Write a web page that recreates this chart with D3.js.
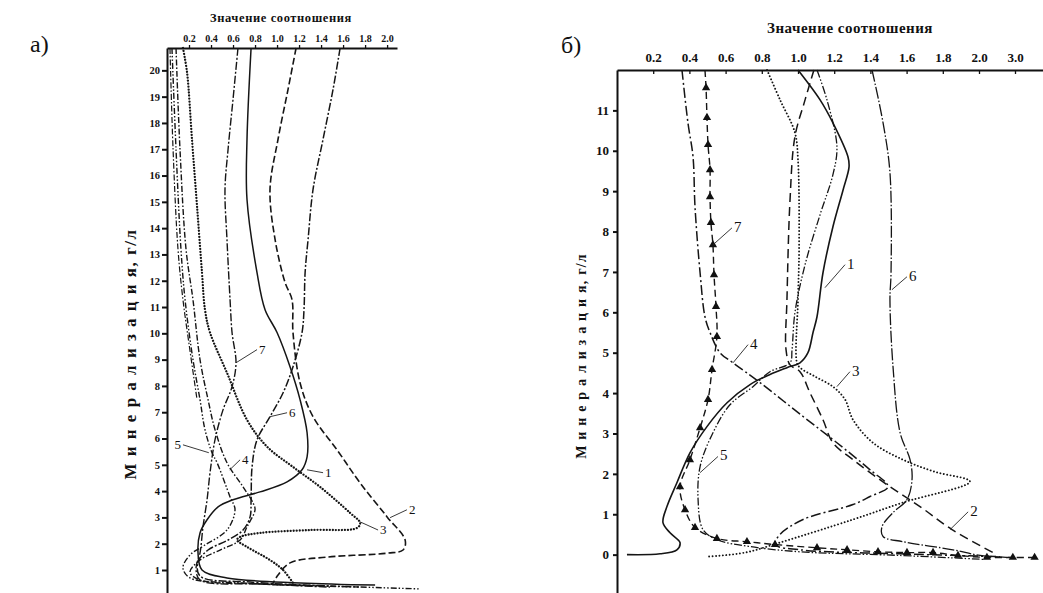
<!DOCTYPE html>
<html>
<head>
<meta charset="utf-8">
<script src="https://cdn.jsdelivr.net/npm/d3@7"></script>
<style>
  body { margin: 0; background: #fff; }
  svg { display: block; }
  text { font-family: "Liberation Serif", "DejaVu Serif", serif; fill: #111; }
  .axis path, .axis line { stroke: #111; }
</style>
</head>
<body>
<svg id="chart" width="1043" height="593"></svg>
<script>
// ---------- panel a: ratio vs mineralization (0..20 g/l) ----------
const xTicksA = [0.2, 0.4, 0.6, 0.8, 1.0, 1.2, 1.4, 1.6, 1.8, 2.0];
const yTicksA = d3.range(1, 21);

// each point is [ratio, mineralization]
const a1 = [[0.764,20.85],[0.727,17.38],[0.727,15.09],[0.818,12.31],[0.891,10.90],[1.0,10.03],[1.118,8.73],[1.209,7.48],[1.273,6.22],[1.273,5.30],[1.227,4.81],[1.091,4.35],[0.845,3.97],[0.6,3.67],[0.464,3.40],[0.364,2.91],[0.3,2.41],[0.282,1.65],[0.318,1.00],[0.545,0.70],[1.209,0.51],[1.891,0.43]];
const a2 = [[1.173,20.85],[1.1,19.28],[1.009,17.38],[0.936,15.47],[0.982,13.57],[1.073,11.93],[1.136,11.28],[1.145,10.03],[1.209,8.12],[1.327,6.83],[1.545,5.57],[1.755,4.31],[2.0,3.02],[2.164,2.14],[2.145,1.76],[2.0,1.64],[1.455,1.49],[1.118,1.27],[1.009,0.81],[0.955,0.43]];
const a3 = [[0.145,20.85],[0.182,19.93],[0.227,17.38],[0.273,14.83],[0.318,12.31],[0.345,10.90],[0.391,10.03],[0.545,8.50],[0.727,6.71],[0.909,5.69],[1.145,4.92],[1.391,4.16],[1.664,3.17],[1.755,2.79],[1.727,2.60],[1.3,2.52],[0.845,2.41],[0.664,2.26],[0.636,2.14],[0.727,1.88],[0.936,1.38],[1.055,1.00],[1.145,0.51]];
const a4 = [[0.082,20.85],[0.118,17.0],[0.173,13.19],[0.236,11.28],[0.3,9.0],[0.373,7.48],[0.436,6.34],[0.545,5.08],[0.691,4.16],[0.782,3.55],[0.8,3.29],[0.727,2.64],[0.664,2.14],[0.482,1.76],[0.3,1.38],[0.209,0.92],[0.3,0.62],[0.845,0.47],[1.755,0.35]];
const a5 = [[0.045,20.85],[0.082,17.0],[0.127,13.19],[0.164,11.28],[0.236,9.0],[0.3,7.48],[0.345,6.34],[0.409,5.46],[0.455,5.08],[0.573,3.78],[0.618,3.29],[0.545,2.52],[0.345,1.95],[0.209,1.57],[0.145,1.08],[0.209,0.70],[0.664,0.51],[1.482,0.39],[2.3,0.28]];
const a5b = [[0.027,20.85],[0.055,17.0],[0.1,13.19],[0.145,11.28],[0.2,9.6],[0.273,7.48]];
const a6 = [[1.573,20.85],[1.509,19.28],[1.418,17.38],[1.327,15.47],[1.282,13.57],[1.255,12.31],[1.245,10.90],[1.227,10.03],[1.145,8.73],[1.055,7.74],[0.936,6.83],[0.818,5.95],[0.773,4.92],[0.764,3.67],[0.755,3.02],[0.691,2.52],[0.555,2.14],[0.373,1.76],[0.282,1.31],[0.3,0.77],[0.755,0.54],[1.482,0.39]];
const a7 = [[0.645,20.85],[0.6,18.90],[0.555,17.0],[0.527,15.47],[0.545,13.57],[0.573,11.28],[0.591,10.03],[0.627,8.88],[0.591,7.97],[0.509,7.09],[0.436,5.95],[0.391,4.70],[0.364,3.67],[0.327,2.64],[0.3,1.65],[0.264,1.08],[0.3,0.62],[0.845,0.47],[1.482,0.35]];

// curve number labels: [point on curve], [end of leader]
const labelsA = [
  { id: "1", from: [1.273,4.81], to: [1.418,4.70] },
  { id: "2", from: [2.027,2.99], to: [2.18,3.29] },
  { id: "3", from: [1.755,2.83], to: [1.918,2.52] },
  { id: "4", from: [0.57,4.81],  to: [0.664,5.19] },
  { id: "5", from: [0.38,5.46],  to: [0.145,5.76], left: true },
  { id: "6", from: [0.936,6.83], to: [1.091,6.98] },
  { id: "7", from: [0.627,8.88], to: [0.818,9.38] }
];

// ---------- panel b: ratio vs mineralization (0..11 g/l) ----------
const xTicksB = [0.2, 0.4, 0.6, 0.8, 1.0, 1.2, 1.4, 1.6, 1.8, 2.0, 3.0];
const yTicksB = d3.range(0, 12);

const b1 = [[1.0,12.0],[1.122,11.26],[1.193,10.69],[1.276,9.85],[1.282,9.60],[1.249,9.03],[1.193,8.12],[1.138,6.98],[1.105,5.89],[1.083,5.50],[1.055,5.0],[1.011,4.75],[0.939,4.63],[0.845,4.46],[0.735,4.21],[0.608,3.76],[0.497,3.17],[0.403,2.52],[0.331,1.78],[0.276,1.19],[0.254,0.79],[0.293,0.54],[0.348,0.30],[0.331,0.12],[0.238,0.02],[0.055,0.0]];
const b2 = [[1.088,12.0],[1.039,11.26],[0.983,10.35],[0.956,8.79],[0.939,6.31],[0.934,5.07],[0.956,4.70],[1.011,4.53],[1.066,4.01],[1.138,3.34],[1.193,2.77],[1.304,2.35],[1.492,1.73],[1.674,1.19],[1.851,0.62],[2.39,0.05]];
const b3 = [[0.829,12.0],[0.901,11.26],[0.983,10.45],[1.0,9.78],[1.006,7.55],[1.0,6.31],[0.994,4.75],[1.011,4.63],[1.094,4.41],[1.193,4.16],[1.26,3.84],[1.304,3.34],[1.414,2.77],[1.58,2.35],[1.757,2.05],[1.95,1.81],[1.58,1.29],[1.304,0.87],[0.901,0.30],[0.707,0.05],[0.497,-0.05]];
const b4 = [[0.359,12.0],[0.392,10.69],[0.42,9.85],[0.431,8.61],[0.459,6.98],[0.486,5.89],[0.514,5.50],[0.569,5.0],[0.641,4.75],[0.79,4.26],[1.028,3.42],[1.215,2.77],[1.398,2.10],[1.497,1.68],[1.398,1.44],[1.304,1.24],[1.028,0.87],[0.901,0.50],[0.873,0.25],[1.011,0.12],[1.564,0.02],[2.58,-0.05]];
const b5 = [[1.105,12.0],[1.16,11.26],[1.215,10.10],[1.193,9.41],[1.122,8.42],[1.039,7.18],[0.983,5.99],[0.967,5.07],[0.956,4.75],[0.845,4.53],[0.751,4.16],[0.624,3.71],[0.525,2.97],[0.459,2.18],[0.448,1.36],[0.475,0.62],[0.552,0.37],[0.735,0.20],[1.011,0.07],[1.564,-0.02],[2.17,-0.12]];
const b6 = [[1.409,12.0],[1.47,10.69],[1.508,9.46],[1.514,6.98],[1.508,6.31],[1.525,4.65],[1.564,3.02],[1.619,2.35],[1.63,1.86],[1.602,1.36],[1.525,1.04],[1.464,0.69],[1.47,0.45],[1.58,0.32],[1.856,0.12],[2.03,-0.02],[2.86,-0.07]];
const b7 = [[0.486,12.0],[0.492,11.56],[0.497,10.82],[0.503,10.15],[0.514,9.53],[0.514,8.86],[0.519,8.22],[0.530,7.67],[0.536,6.93],[0.547,6.14],[0.552,5.40],[0.525,4.58],[0.503,3.84],[0.459,3.14],[0.403,2.35],[0.348,1.68],[0.376,1.11],[0.431,0.67],[0.552,0.40],[0.718,0.32],[0.873,0.25],[1.105,0.17],[1.271,0.12],[1.442,0.07],[1.602,0.05],[1.746,0.05],[1.884,-0.02],[2.22,-0.07],[2.94,-0.07],[3.56,-0.07]];

const labelsB = [
  { id: "1", from: [1.149,6.61], to: [1.26,7.18] },
  { id: "2", from: [1.84,0.62],  to: [1.94,1.06] },
  { id: "3", from: [1.215,4.16], to: [1.287,4.53] },
  { id: "4", from: [0.641,4.75], to: [0.724,5.20] },
  { id: "5", from: [0.459,2.03], to: [0.558,2.43] },
  { id: "6", from: [1.519,6.56], to: [1.602,6.88] },
  { id: "7", from: [0.530,7.67], to: [0.635,8.09] }
];

document.addEventListener("DOMContentLoaded", function() {
    const svg = d3.select("#chart");

    // line styles per curve
    const stylesA = {
        "1":  { dash: null, w: 1.5 },
        "2":  { dash: "7,3", w: 1.6 },
        "3":  { dash: "0.01,3", w: 2.3 },
        "4":  { dash: "6,2,1.5,2", w: 1.4 },
        "5":  { dash: "6,2,1.5,2,1.5,2", w: 1.4 },
        "5b": { dash: "6,2,1.5,2", w: 1.2 },
        "6":  { dash: "8,2,2,2", w: 1.5 },
        "7":  { dash: "8,2,2,2", w: 1.4 }
    };
    const stylesB = {
        "1": { dash: null, w: 1.6 },
        "2": { dash: "9,5", w: 1.5 },
        "3": { dash: "0.01,3.4", w: 1.9 },
        "4": { dash: "10,3,2,3", w: 1.5 },
        "5": { dash: "8,2,1.5,2,1.5,2", w: 1.3 },
        "6": { dash: "12,2,1.5,2", w: 1.3 },
        "7": { dash: "7,4", w: 1.4 }
    };

    const curvesA = [
        { id: "5b", pts: a5b }, { id: "5", pts: a5 }, { id: "4", pts: a4 },
        { id: "3", pts: a3 }, { id: "7", pts: a7 }, { id: "1", pts: a1 },
        { id: "2", pts: a2 }, { id: "6", pts: a6 }
    ];
    const curvesB = [
        { id: "1", pts: b1 }, { id: "2", pts: b2 }, { id: "3", pts: b3 },
        { id: "4", pts: b4 }, { id: "5", pts: b5 }, { id: "6", pts: b6 },
        { id: "7", pts: b7 }
    ];

    // scales
    const xA = d3.scaleLinear().domain([0, 2.09]).range([167, 397]);
    const yA = d3.scaleLinear().domain([0, 20.85]).range([596.3, 48]);
    const xB = d3.scaleLinear().domain([0, 2, 3, 3.8]).range([617, 979, 1015, 1043]);
    const yB = d3.scaleLinear().domain([-0.95, 12]).range([593, 70]);

    drawPanel({
        x: xA, y: yA, xTicks: xTicksA, yTicks: yTicksA, curves: curvesA, styles: stylesA,
        labels: labelsA, xFont: 10, yFont: 10.5, xPad: 3, xTick: 3, yTick: 5, yPad: 2,
        axisW: 2, labelFont: 13
    });
    drawPanel({
        x: xB, y: yB, xTicks: xTicksB, yTicks: yTicksB, curves: curvesB, styles: stylesB,
        labels: labelsB, xFont: 13, yFont: 13, xPad: 8, xTick: -4, yTick: 4, yPad: 4,
        axisW: 2, labelFont: 15, triangles: "7"
    });

    // titles and panel letters
    svg.append("text").attr("x", 281).attr("y", 22).attr("text-anchor", "middle")
        .style("font-size", "12.5px").style("font-weight", "bold").style("letter-spacing", "0.6px")
        .text("Значение соотношения");
    svg.append("text").attr("x", 850).attr("y", 33).attr("text-anchor", "middle")
        .style("font-size", "15px").style("font-weight", "bold").style("letter-spacing", "0.5px")
        .text("Значение соотношения");

    svg.append("text").attr("x", 30).attr("y", 52).style("font-size", "24px").text("а)");
    svg.append("text").attr("x", 561).attr("y", 53).style("font-size", "24px").text("б)");

    svg.append("text")
        .attr("transform", "translate(136,354) rotate(-90)")
        .attr("text-anchor", "middle")
        .style("font-size", "17px").style("font-weight", "bold").style("letter-spacing", "1.5px")
        .text("М и н е р а л и з а ц и я, г/л");
    svg.append("text")
        .attr("transform", "translate(586,356) rotate(-90)")
        .attr("text-anchor", "middle")
        .style("font-size", "14px").style("font-weight", "bold").style("letter-spacing", "1.2px")
        .text("М и н е р а л и з а ц и я, г/л");

    function drawPanel(p) {
        const g = svg.append("g");
        const fmt = d3.format(".1f");

        // top axis with ratio values
        const ax = g.append("g").attr("class", "axis")
            .attr("transform", "translate(0," + p.y.range()[1] + ")")
            .call(d3.axisTop(p.x).tickValues(p.xTicks).tickFormat(fmt)
                .tickSizeInner(p.xTick).tickSizeOuter(0).tickPadding(p.xPad));
        ax.select(".domain").attr("stroke-width", p.axisW);
        ax.selectAll(".tick line").attr("stroke-width", 1.3);
        ax.selectAll("text").style("font-size", p.xFont + "px").style("font-weight", "bold")
            .attr("fill", "#111");

        // left axis with mineralization
        const ay = g.append("g").attr("class", "axis")
            .attr("transform", "translate(" + p.x(0) + ",0)")
            .call(d3.axisLeft(p.y).tickValues(p.yTicks).tickFormat(d3.format("d"))
                .tickSizeInner(p.yTick).tickSizeOuter(0).tickPadding(p.yPad));
        ay.select(".domain").attr("stroke-width", p.axisW);
        ay.selectAll(".tick line").attr("stroke-width", 2);
        ay.selectAll("text").style("font-size", p.yFont + "px").style("font-weight", "bold")
            .attr("fill", "#111");

        const line = d3.line()
            .x(d => p.x(d[0]))
            .y(d => p.y(d[1]))
            .curve(d3.curveCatmullRom.alpha(0.5));

        g.selectAll(".curve")
            .data(p.curves)
            .enter()
            .append("path")
            .attr("class", "curve")
            .attr("d", d => line(d.pts))
            .attr("fill", "none")
            .attr("stroke", "#151515")
            .attr("stroke-width", d => p.styles[d.id].w)
            .attr("stroke-dasharray", d => p.styles[d.id].dash)
            .attr("stroke-linecap", d => d.id === "3" ? "round" : "butt")
            .attr("stroke-linejoin", "round");

        // triangle markers on the marked curve
        if (p.triangles) {
            const pts = p.curves.find(c => c.id === p.triangles).pts.slice(1);
            g.selectAll(".tri")
                .data(pts)
                .enter()
                .append("path")
                .attr("class", "tri")
                .attr("transform", d => "translate(" + p.x(d[0]) + "," + p.y(d[1]) + ")")
                .attr("d", d3.symbol().type(d3.symbolTriangle).size(30))
                .attr("fill", "#111");
        }

        // curve numbers with leader lines
        g.selectAll(".leader")
            .data(p.labels)
            .enter()
            .append("line")
            .attr("class", "leader")
            .attr("x1", d => p.x(d.from[0]))
            .attr("y1", d => p.y(d.from[1]))
            .attr("x2", d => p.x(d.to[0]))
            .attr("y2", d => p.y(d.to[1]))
            .attr("stroke", "#222")
            .attr("stroke-width", 0.9);

        g.selectAll(".num")
            .data(p.labels)
            .enter()
            .append("text")
            .attr("class", "num")
            .attr("x", d => p.x(d.to[0]) + (d.left ? -2 : 2))
            .attr("y", d => p.y(d.to[1]) + 4)
            .attr("text-anchor", d => d.left ? "end" : "start")
            .style("font-size", p.labelFont + "px")
            .text(d => d.id);
    }
});
</script>
</body>
</html>
